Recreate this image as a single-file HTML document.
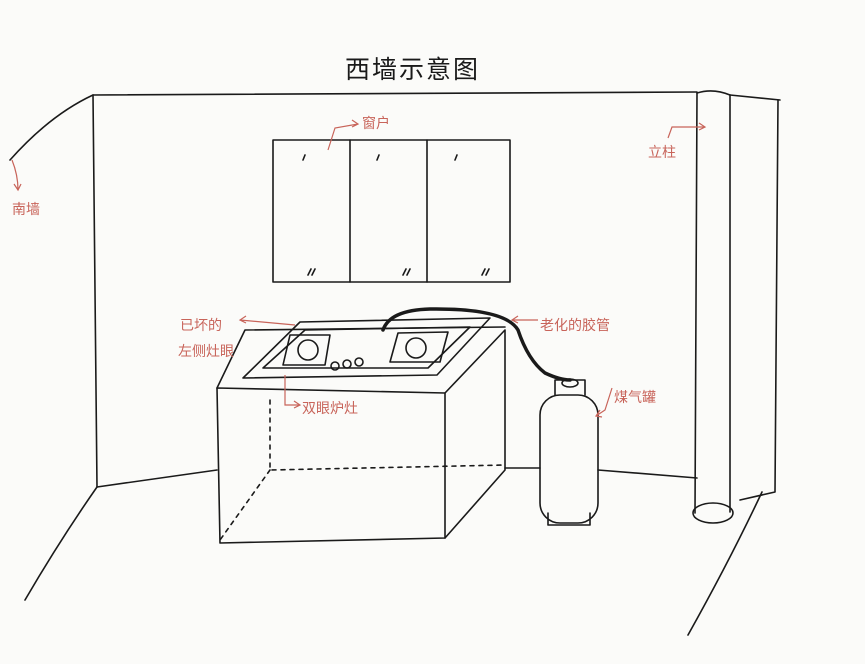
<!DOCTYPE html>
<html><head><meta charset="utf-8"><style>
html,body{margin:0;padding:0;background:#fbfbf9;}
svg{display:block}
.l{fill:none;stroke:#1a1a1a;stroke-width:1.6;stroke-linecap:round;stroke-linejoin:round}
.r{fill:none;stroke:#c8645a;stroke-width:1.2}
.t{font-family:"Liberation Sans","Noto Sans CJK SC",sans-serif;fill:#c8645a;font-size:14px}
</style></head><body>
<svg width="865" height="664" viewBox="0 0 865 664">
<rect width="865" height="664" fill="#fbfbf9"/>
<text x="345" y="78" font-family="Liberation Sans,'Noto Sans CJK SC',sans-serif" font-size="25" fill="#1a1a1a" letter-spacing="2">西墙示意图</text>
<!-- walls -->
<path class="l" d="M93 95 L697 92 M730 95 L780 100"/>
<path class="l" d="M93 95 L97 487"/>
<path class="l" d="M93 95 Q50 115 10 160"/>
<path class="l" d="M97 487 Q60 540 25 600"/>
<path class="l" d="M97 487 L217 470 M505 468 L540 468 M598 470 L697 478"/>
<path class="l" d="M778 100 L775 492 L740 500"/>
<path class="l" d="M762 492 Q730 560 688 635"/>
<!-- pillar -->
<path class="l" d="M697 93 L695 513 M730 95 L730 512"/>
<ellipse class="l" cx="713" cy="513" rx="20" ry="10"/>
<path class="l" d="M697 93 Q713 88 730 95"/>
<!-- window -->
<rect class="l" x="273" y="140" width="237" height="142"/>
<path class="l" d="M350 140 L350 282 M427 140 L427 282"/>
<path class="l" stroke-width="1" d="M303 160 l2 -5 M377 160 l2 -5 M455 160 l2 -5 M308 275 l3 -6 M312 275 l3 -6 M403 275 l3 -6 M407 275 l3 -6 M482 275 l3 -6 M486 275 l3 -6"/>
<!-- counter -->
<path class="l" d="M217 388 L445 393 L445 538 L220 543 Z"/>
<path class="l" d="M445 393 L505 330 L505 470 L445 538"/>
<path class="l" d="M217 388 L245 330 L505 327"/>
<path class="l" d="M243 378 L300 322 L490 318 L437 375 Z"/>
<path class="l" d="M263 368 L305 330 L470 327 L428 368 Z"/>
<circle class="l" cx="308" cy="350" r="10"/>
<circle class="l" cx="416" cy="348" r="10"/>
<path class="l" d="M290 335 L330 335 L325 365 L283 365 Z M398 333 L448 332 L440 362 L390 362 Z"/>
<circle class="l" cx="335" cy="366" r="4"/><circle class="l" cx="347" cy="364" r="4"/><circle class="l" cx="359" cy="362" r="4"/>
<path class="l" stroke-dasharray="4,5" d="M270 400 L270 470 L505 465 M270 470 L220 540"/>
<!-- hose -->
<path fill="none" stroke="#1a1a1a" stroke-width="3.5" stroke-linecap="round" d="M383 330 Q390 310 430 309 Q505 308 518 330 Q528 360 545 373 Q560 380 570 380"/>
<!-- tank -->
<rect class="l" x="540" y="395" width="58" height="128" rx="20"/>
<path class="l" d="M555 395 L555 380 L585 380 L585 395"/>
<ellipse class="l" cx="570" cy="383" rx="8" ry="4"/>
<path class="l" d="M548 513 L548 525 L590 525 L590 513"/>
<!-- labels -->
<text class="t" x="12" y="214">南墙</text>
<path class="r" d="M12 160 Q18 175 18 190 M14 184 l4 6 l3 -6"/>
<text class="t" x="362" y="128">窗户</text>
<path class="r" d="M328 150 L335 128 L358 124 M352 120 l6 4 l-6 3"/>
<text class="t" x="648" y="157">立柱</text>
<path class="r" d="M668 138 L672 127 L705 127 M699 123 l6 4 l-6 3"/>
<text class="t" x="180" y="330">已坏的</text>
<text class="t" x="178" y="356">左侧灶眼</text>
<path class="r" d="M295 325 L240 320 M246 316 l-6 4 l6 3"/>
<text class="t" x="302" y="413">双眼炉灶</text>
<path class="r" d="M285 375 L285 405 L300 405 M294 401 l6 4 l-6 3"/>
<text class="t" x="540" y="330">老化的胶管</text>
<path class="r" d="M538 320 L512 320 M518 316 l-6 4 l6 3"/>
<text class="t" x="614" y="402">煤气罐</text>
<path class="r" d="M612 388 L605 410 L596 416 M600 410 l-4 6 l6 1"/>
</svg>
</body></html>
